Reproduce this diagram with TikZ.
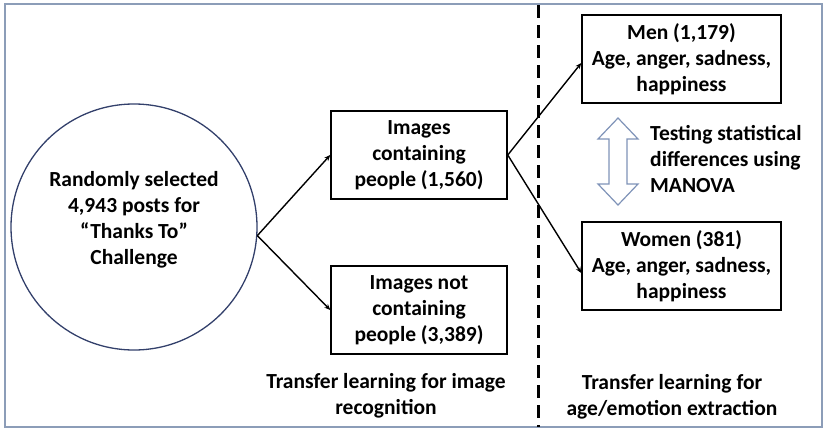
\documentclass[tikz,border=0pt]{standalone}
\usepackage{fontspec}
\setmainfont{Carlito}
\usetikzlibrary{arrows.meta}

\definecolor{framegray}{HTML}{8C9DB8}
\definecolor{circblue}{HTML}{33406B}
\definecolor{arrblue}{HTML}{7F93B8}

\tikzstyle{postcirc}=[circle,
                         draw=circblue,
                         line width=1.3pt,
                         minimum size=246pt,
                         inner sep=0pt,
                         align=center]
\tikzstyle{imgbox}=[rectangle,
                         draw,
                         line width=1.5pt,
                         minimum width=176pt,
                         minimum height=88pt,
                         inner sep=0pt,
                         align=center]
\tikzstyle{sexbox}=[imgbox, minimum width=199pt]
\tikzstyle{flow}=[-{Stealth[length=6pt,width=5pt]}, line width=1.4pt]
\tikzstyle{caption}=[align=center, inner sep=0pt]

\begin{document}
\begin{tikzpicture}[x=1pt, y=-1pt, font=\fontsize{21.5}{26}\selectfont\bfseries]
    \useasboundingbox (0,0) rectangle (827,431);
    \draw [framegray, line width=2pt] (5,4) rectangle (822,427);

    \node [postcirc] (posts) at (134,227) {Randomly selected\\4,943 posts for\\``Thanks To''\\Challenge\\[-8pt]};
    \node [imgbox] (people) at (419,155) {Images\\containing\\people (1,560)};
    \node [imgbox] (nopeople) at (419,310) {Images not\\containing\\people (3,389)};
    \node [sexbox] (men) at (681.5,59) {Men (1,179)\\Age, anger, sadness,\\happiness};
    \node [sexbox] (women) at (681.5,266) {Women (381)\\Age, anger, sadness,\\happiness};

    \draw [flow] (posts.-4) -- (people.west);
    \draw [flow] (posts.-4) -- (nopeople.west);
    \draw [flow] (people.east) -- ([yshift=-4pt]men.west);
    \draw [flow] (people.east) -- ([yshift=-7pt]women.west);

    % divider between the two stages
    \coordinate (divtop) at (538,5);
    \coordinate (divbot) at (538,427);
    \draw [line width=3pt, dash pattern=on 13pt off 7pt] (divtop) -- (divbot);

    % open double arrow for the comparison
    \draw [arrblue, line width=1.2pt, fill=white]
        (618,118) -- (638,139) -- (627,139) -- (627,184) -- (638,184) -- (618,205)
        -- (598,184) -- (609,184) -- (609,139) -- (598,139) -- cycle;
    \node [anchor=west, align=left, inner sep=0pt] (manova) at (650,159) {Testing statistical\\differences using\\MANOVA};

    \node [caption] (leftcap) at (386,396) {Transfer learning for image\\recognition};
    \node [caption] (rightcap) at (672,397) {Transfer learning for\\age/emotion extraction};
\end{tikzpicture}
\end{document}
